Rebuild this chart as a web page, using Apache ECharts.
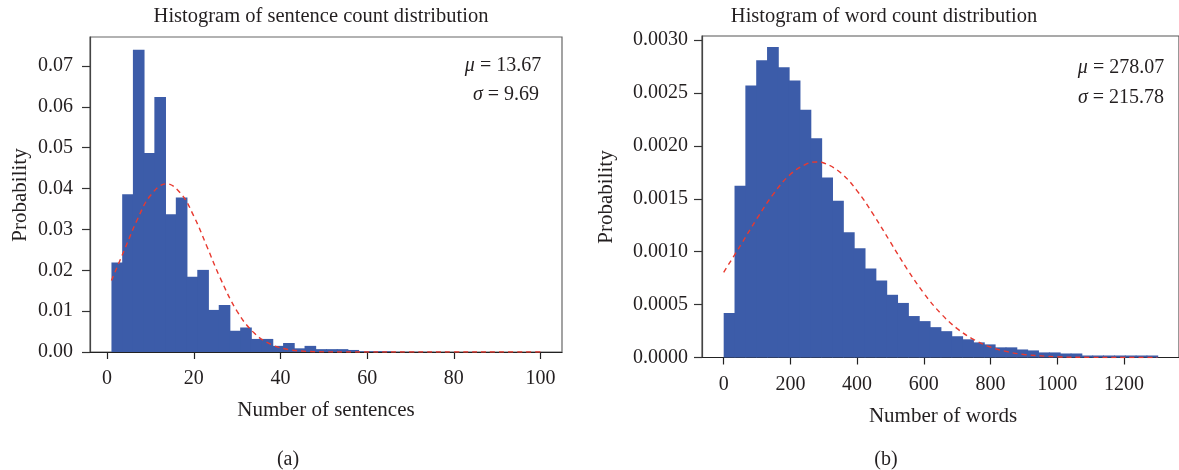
<!DOCTYPE html>
<html>
<head>
<meta charset="utf-8">
<script src="https://cdn.jsdelivr.net/npm/echarts@6/dist/echarts.min.js"></script>
<style>
html,body{margin:0;padding:0;background:#fff;}
#chart{width:1179px;height:470px;}
</style>
</head>
<body>
<div id="chart"></div>
<script>
// ---------- DATA ----------
const sentenceBinStart = 1;
const sentenceBinWidth = 2.475;
const sentenceDensity = [
  0.0219, 0.0386, 0.0740, 0.0487, 0.0624, 0.0337, 0.0378, 0.0184, 0.0201, 0.0103,
  0.0115, 0.0052, 0.0060, 0.0032, 0.0032, 0.0015, 0.0022, 0.0009, 0.0015, 0.0007,
  0.0007, 0.0007, 0.0005, 0.0002, 0.0002, 0.0002, 0.00005, 0.00005, 0.00005, 0.00004,
  0.00002, 0.00002, 0, 0.00002, 0, 0, 0, 0, 0, 0.00002
];
const sentenceCurveX = [1, 4, 7, 10, 13.67, 17, 20, 23, 26, 30, 34, 38, 42, 46, 50, 55, 60, 70, 80, 90, 100];
const sentenceCurveY = [0.01751, 0.02502, 0.03249, 0.03832, 0.04117, 0.03881, 0.03326, 0.02590, 0.01833, 0.00995,
  0.00456, 0.00176, 0.000574, 0.000158, 0.0000365, 0.0000046, 0, 0, 0, 0, 0];
const sentenceXTicks = [0, 20, 40, 60, 80, 100];
const sentenceYTicks = [0, 0.01, 0.02, 0.03, 0.04, 0.05, 0.06, 0.07];

const wordBinStart = 0;
const wordBinWidth = 32.5;
const wordDensity = [
  0.000421, 0.001625, 0.002572, 0.002811, 0.002935, 0.002744, 0.002619, 0.002342, 0.002074, 0.001702,
  0.001482, 0.001185, 0.001032, 0.000841, 0.000727, 0.000593, 0.000516, 0.000392, 0.000344, 0.000287,
  0.000249, 0.000201, 0.000172, 0.000143, 0.000124, 0.000096, 0.000096, 0.000076, 0.000067, 0.000048,
  0.000048, 0.000038, 0.000038, 0.000019, 0.000019, 0.000019, 0.000019, 0.000019, 0.000019, 0.000019
];
const wordCurveX = [0, 50, 100, 150, 200, 250, 278.07, 300, 350, 400, 450, 500, 550, 600, 650, 700, 750, 800, 850, 900, 1000, 1100, 1200, 1300];
const wordCurveY = [0.000806, 0.001058, 0.001315, 0.001550, 0.001732, 0.001833, 0.001849, 0.001839, 0.001749, 0.001576,
  0.001346, 0.001090, 0.000836, 0.000608, 0.000419, 0.000273, 0.000169, 0.0000991, 0.0000551, 0.0000290,
  0.00000686, 0.0000013, 0.0000002, 0];
const wordXTicks = [0, 200, 400, 600, 800, 1000, 1200];
const wordYTicks = [0, 0.0005, 0.0010, 0.0015, 0.0020, 0.0025, 0.0030];

const titles = ['Histogram of sentence count distribution', 'Histogram of word count distribution'];
const xNames = ['Number of sentences', 'Number of words'];
const yName = 'Probability';
const panelLabels = ['(a)', '(b)'];
const statsA = ['13.67', '9.69'];
const statsB = ['278.07', '215.78'];

// ---------- BUILD ----------
const FONT = '"Liberation Serif", "DejaVu Serif", serif';
const TXT = '#231f20';
const BAR = '#3c5ca9';
const RED = '#e8392f';

function bins(start, width, vals) {
  return vals.map((v, i) => [start + i * width, start + (i + 1) * width, v]);
}
function pairs(xs, ys) { return xs.map((x, i) => [x, ys[i]]); }

function renderBar(params, api) {
  const p0 = api.coord([api.value(0), api.value(2)]);
  const p1 = api.coord([api.value(1), 0]);
  return {
    type: 'rect',
    shape: { x: p0[0], y: p0[1], width: p1[0] - p0[0] + 0.9, height: p1[1] - p0[1] },
    style: { fill: BAR }
  };
}

function xAxisCfg(idx, min, max, ticks) {
  return {
    type: 'value', gridIndex: idx, min: min, max: max,
    splitLine: { show: false },
    axisLine: { show: true, onZero: false, lineStyle: { color: '#222', width: 1.2 } },
    axisTick: { show: true, customValues: ticks, length: 7, inside: false, lineStyle: { color: '#222', width: 1.2 } },
    axisLabel: { customValues: ticks, color: TXT, fontFamily: FONT, fontSize: 20, margin: 17,
      formatter: v => String(v) }
  };
}
function yAxisCfg(idx, max, ticks, fmt, margin) {
  return {
    type: 'value', gridIndex: idx, min: 0, max: max,
    splitLine: { show: false },
    axisLine: { show: true, onZero: false, lineStyle: { color: '#444', width: 1.2 } },
    axisTick: { show: true, customValues: ticks, length: 8, lineStyle: { color: '#333', width: 1.2 } },
    axisLabel: { customValues: ticks, color: TXT, fontFamily: FONT, fontSize: 20, margin: margin,
      formatter: v => v.toFixed(fmt) }
  };
}

const chart = echarts.init(document.getElementById('chart'), null, { renderer: 'canvas' });

function statText(sym, val) {
  return '{i|' + sym + '} = ' + val;
}
function txt(x, y, text, size, extra) {
  return Object.assign({ type: 'text', x: x, y: y,
    style: { text: text, fill: TXT, font: size + 'px ' + FONT, textAlign: 'center', textVerticalAlign: 'middle',
      rich: { i: { fontStyle: 'italic', fontFamily: FONT, fontSize: size, fill: TXT } } } }, extra || {});
}

chart.setOption({
  backgroundColor: '#fff',
  animation: false,
  grid: [
    { left: 90, top: 37, width: 472, height: 315, show: true, borderColor: '#666', borderWidth: 1.2, backgroundColor: 'transparent' },
    { left: 702, top: 36, width: 482, height: 321.5, show: true, borderColor: '#555', borderWidth: 1.2, backgroundColor: 'transparent' }
  ],
  xAxis: [
    xAxisCfg(0, -3.95, 104.95, sentenceXTicks),
    xAxisCfg(1, -65, 1365, wordXTicks)
  ],
  yAxis: [
    yAxisCfg(0, 0.0771, sentenceYTicks, 2, 17),
    yAxisCfg(1, 0.00304, wordYTicks, 4, 14)
  ],
  series: [
    { type: 'custom', xAxisIndex: 0, yAxisIndex: 0, renderItem: renderBar, encode: { x: [0, 1], y: 2 },
      data: bins(sentenceBinStart, sentenceBinWidth, sentenceDensity), z: 2 },
    { type: 'line', xAxisIndex: 0, yAxisIndex: 0, data: pairs(sentenceCurveX, sentenceCurveY),
      smooth: 0.4, showSymbol: false, symbol: 'none', z: 3,
      lineStyle: { color: RED, width: 1.4, type: [5, 4] } },
    { type: 'custom', xAxisIndex: 1, yAxisIndex: 1, renderItem: renderBar, encode: { x: [0, 1], y: 2 },
      data: bins(wordBinStart, wordBinWidth, wordDensity), z: 2 },
    { type: 'line', xAxisIndex: 1, yAxisIndex: 1, data: pairs(wordCurveX, wordCurveY),
      smooth: 0.4, showSymbol: false, symbol: 'none', z: 3,
      lineStyle: { color: RED, width: 1.4, type: [5, 4] } }
  ],
  graphic: [
    txt(321, 17, titles[0], 20.5),
    txt(884, 17, titles[1], 20.5),
    txt(326, 410, xNames[0], 21),
    txt(943, 416, xNames[1], 21),
    txt(20, 195, yName, 21, { rotation: Math.PI / 2 }),
    txt(606, 197, yName, 21, { rotation: Math.PI / 2 }),
    txt(288, 460, panelLabels[0], 20),
    txt(886, 460, panelLabels[1], 20),
    txt(503, 66, statText('μ', statsA[0]), 20),
    txt(506, 95, statText('σ', statsA[1]), 20),
    txt(1121, 68, statText('μ', statsB[0]), 20),
    txt(1121, 98, statText('σ', statsB[1]), 20)
  ]
});
</script>
</body>
</html>
